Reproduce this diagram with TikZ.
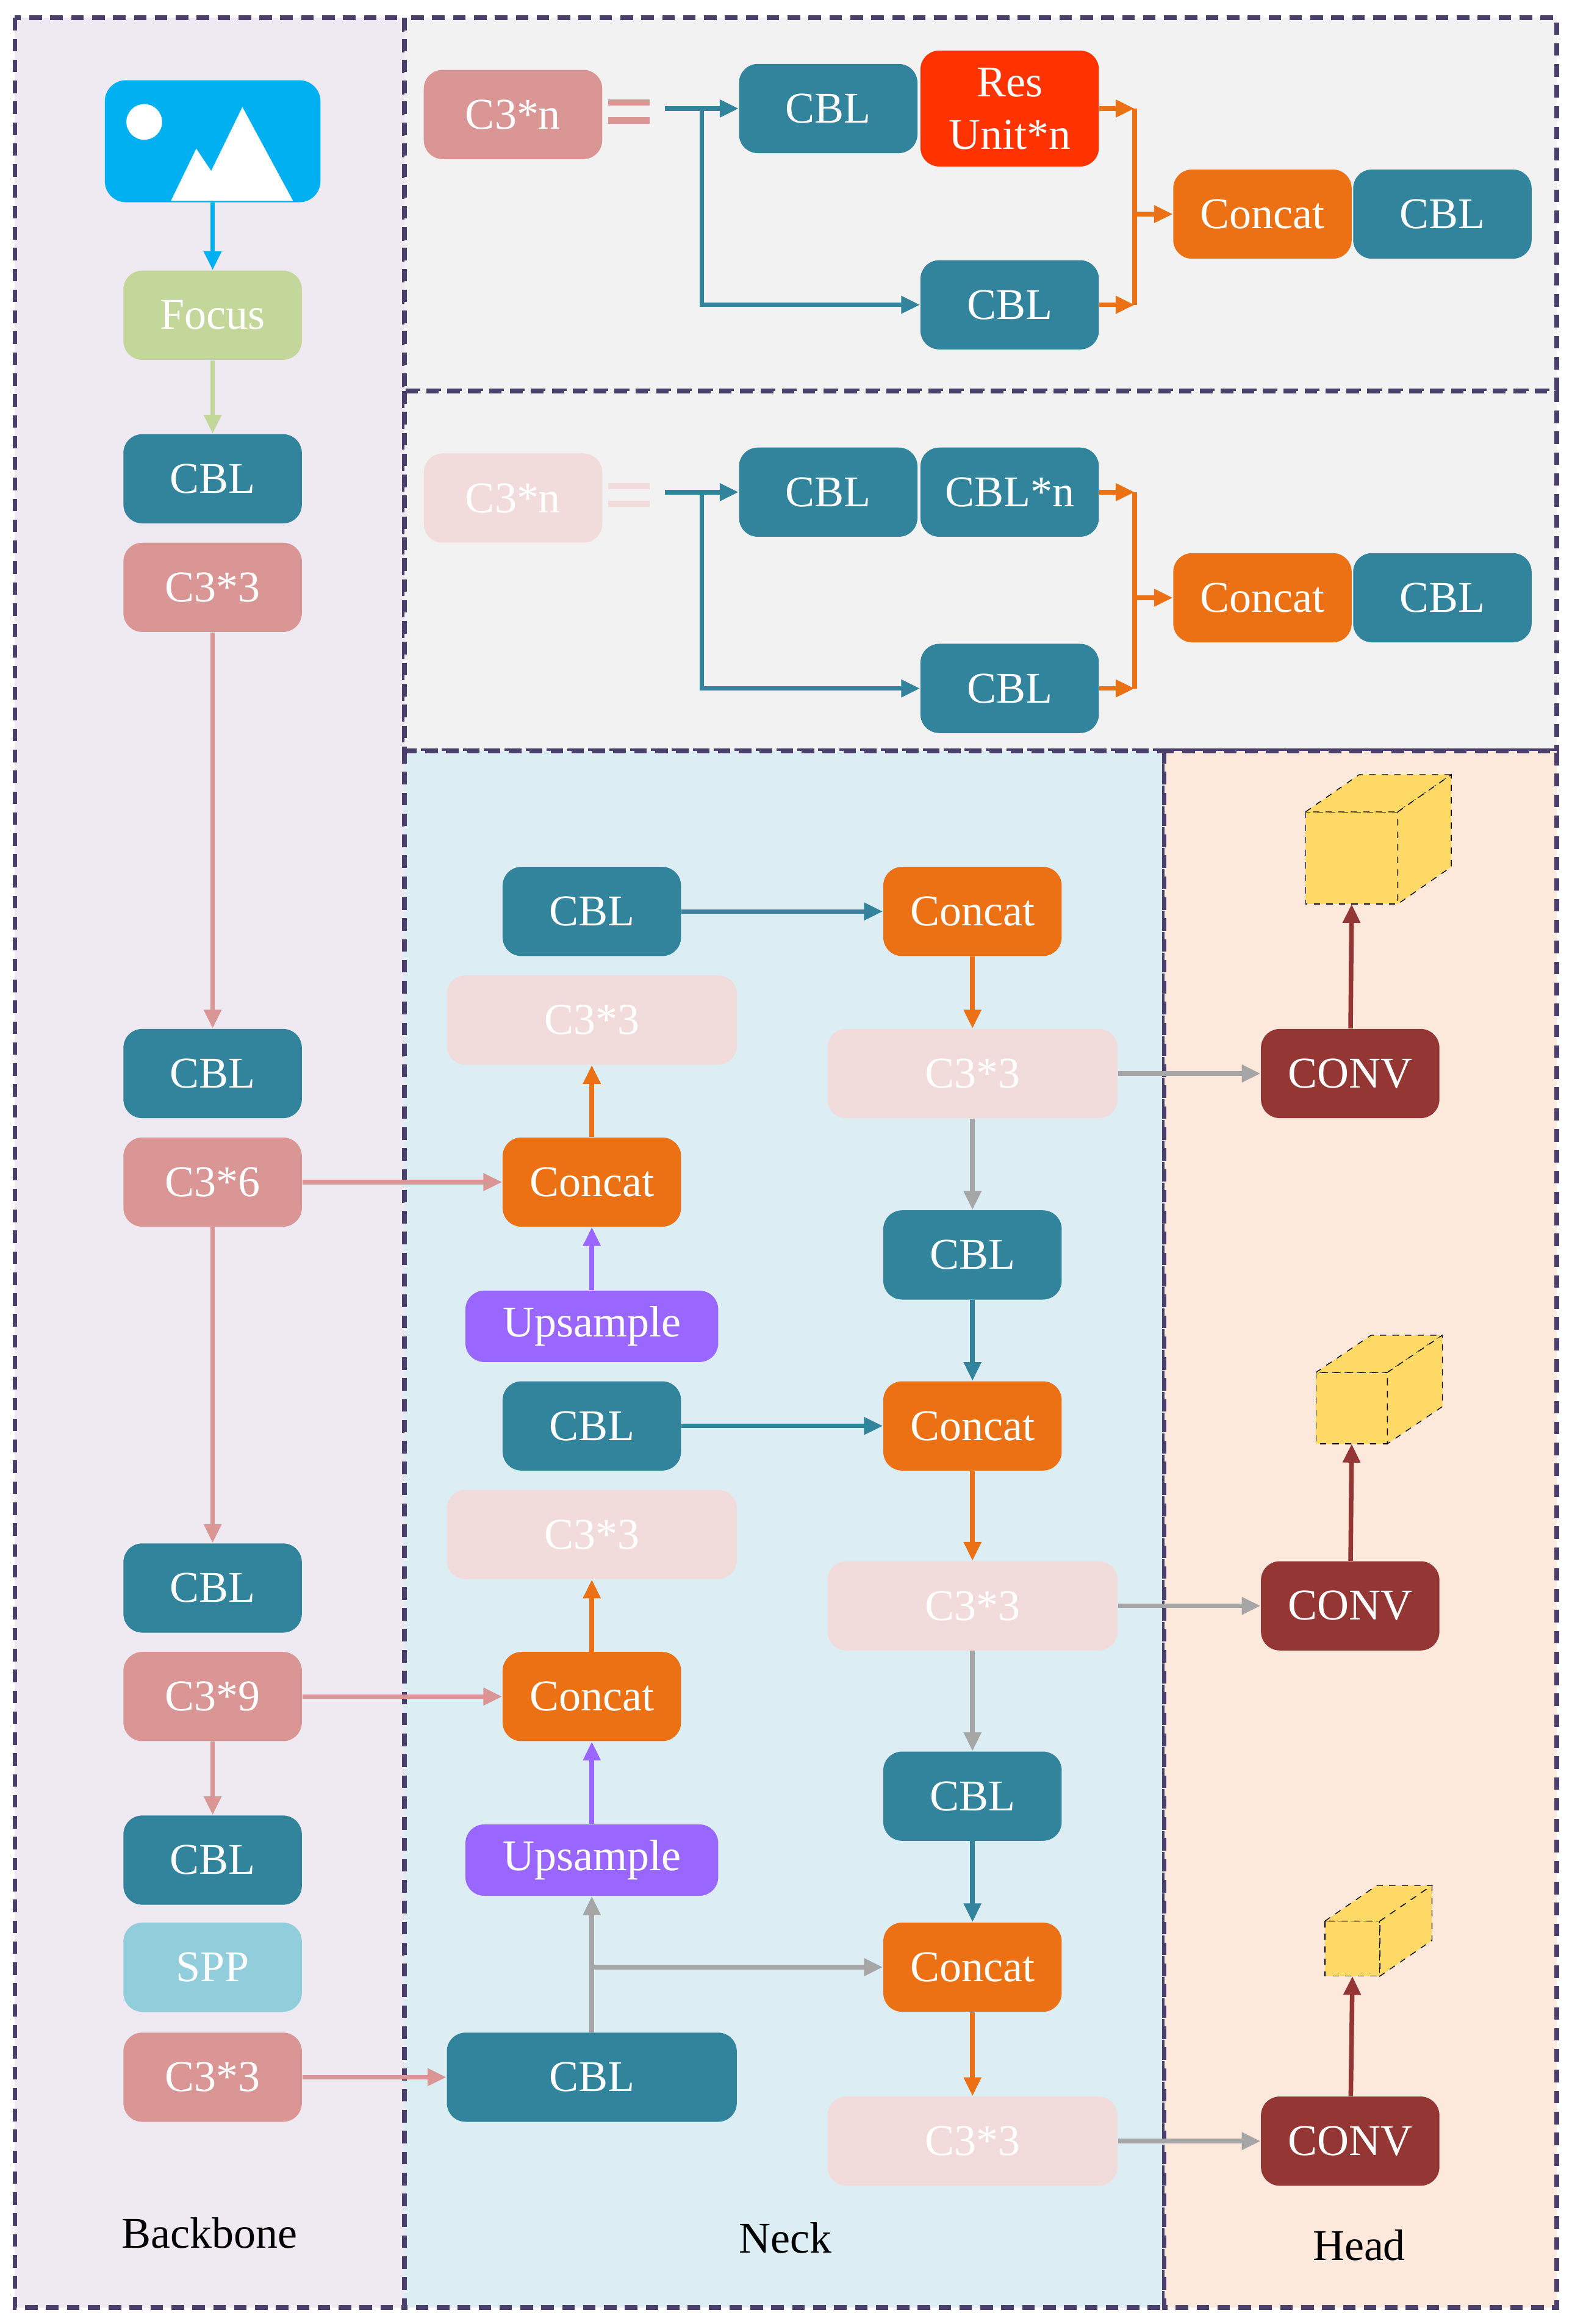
\documentclass[tikz,border=0pt]{standalone}
\usepackage{fontspec}
\setmainfont{Liberation Serif}
\usetikzlibrary{arrows.meta}
\definecolor{teal}{HTML}{31849B}
\definecolor{pk}{HTML}{D99694}
\definecolor{fpk}{HTML}{F2DCDB}
\definecolor{org}{HTML}{EC7014}
\definecolor{pur}{HTML}{9966FF}
\definecolor{dred}{HTML}{943634}
\definecolor{gry}{HTML}{A6A6A6}
\definecolor{frame}{HTML}{4B3F6B}
\definecolor{cy}{HTML}{FFD966}
\begin{document}
\begin{tikzpicture}[x=0.025cm,y=-0.025cm,
 b/.style={rounded corners=9pt,minimum width=120*0.025cm,minimum height=60*0.025cm,text=white,font=\fontsize{21}{23}\selectfont,inner sep=1pt,align=center},
 w/.style={b,minimum width=195*0.025cm},
 cbl/.style={b,fill=teal}, c3/.style={b,fill=pk}, fc3/.style={w,fill=fpk},
 cat/.style={b,fill=org}, up/.style={b,fill=pur,minimum width=170*0.025cm,minimum height=48*0.025cm},
 cv/.style={b,fill=dred},
 ar/.style={line width=2.2pt,-{Triangle[length=9pt,width=8pt]}},
 pnl/.style={line width=2.2pt,draw=frame,dash pattern=on 6pt off 4pt},
 cube/.style={fill=cy,draw=black,dashed,thin}]
\useasboundingbox (0,0) rectangle (1057,1563);
\fill[white] (0,0) rectangle (1057,1563);
% panels
\draw[pnl,fill={rgb,255:red,239;green,233;blue,241}] (10,12) rectangle (272,1552);
\draw[pnl,fill={rgb,255:red,242;green,242;blue,242}] (272,12) rectangle (1047,263);
\draw[pnl,fill={rgb,255:red,242;green,242;blue,242}] (272,263) rectangle (1047,505);
\draw[pnl,fill={rgb,255:red,220;green,237;blue,243}] (272,505) rectangle (783,1552);
\draw[pnl,fill={rgb,255:red,252;green,233;blue,220}] (783,505) rectangle (1047,1552);
% image icon
\node[fill={rgb,255:red,0;green,176;blue,240},rounded corners=10pt,minimum width=145*0.025cm,minimum height=82*0.025cm] (img) at (143,95) {};
\fill[white] (97,82) circle (12);
\fill[white] (115,135)--(132,100)--(142,115)--(163,72)--(197,135)--cycle;
% backbone
\node[b,fill={rgb,255:red,196;green,215;blue,155}] (focus) at (143,212) {Focus};
\node[cbl] (bc1) at (143,322) {CBL};
\node[c3] (b33a) at (143,395) {C3*3};
\node[cbl] (bc2) at (143,722) {CBL};
\node[c3] (b36) at (143,795) {C3*6};
\node[cbl] (bc3) at (143,1068) {CBL};
\node[c3] (b39) at (143,1141) {C3*9};
\node[cbl] (bc4) at (143,1251) {CBL};
\node[b,fill={rgb,255:red,146;green,205;blue,220}] (spp) at (143,1323) {SPP};
\node[c3] (b33b) at (143,1397) {C3*3};
\node[font=\fontsize{21}{23}\selectfont] (lb) at (141,1502) {Backbone};
\coordinate (imgb) at (143,136);
\draw[ar,draw={rgb,255:red,0;green,176;blue,240}] (imgb) -- (focus);
\draw[ar,draw={rgb,255:red,196;green,215;blue,155}] (focus) -- (bc1);
\draw[ar,pk] (b33a) -- (bc2);
\draw[ar,pk] (b36) -- (bc3);
\draw[ar,pk] (b39) -- (bc4);
% top panels
\foreach \dy/\nm/\cl in {0/a/pk,258/b/fpk}{
 \node[b,fill=\cl] (c3n\nm) at (345,77+\dy) {C3*n};
 \draw[line width=3pt,\cl] (409,69+\dy)--(437,69+\dy) (409,81+\dy)--(437,81+\dy);
 \node[cbl] (tc1\nm) at (557,73+\dy) {CBL};
 \node[cbl] (tc2\nm) at (679,205+\dy) {CBL};
 \node[cat] (tcat\nm) at (849,144+\dy) {Concat};
 \node[cbl] (tc3\nm) at (970,144+\dy) {CBL};
 \coordinate (s\nm) at (447,73+\dy);
 \coordinate (br\nm) at (472,73+\dy);
 \coordinate (brd\nm) at (472,205+\dy);
 \coordinate (v1\nm) at (763,73+\dy);
 \coordinate (v2\nm) at (763,205+\dy);
 \coordinate (vm\nm) at (763,144+\dy);
 \draw[ar,teal] (s\nm) -- (tc1\nm);
 \draw[ar,teal] (br\nm) -- (brd\nm) -- (tc2\nm);
 \draw[line width=2.2pt,org] (v1\nm) -- (v2\nm);
 \draw[ar,org] (vm\nm) -- (tcat\nm);
 \draw[ar,org] (tc2\nm.east) -- (v2\nm);
}
\node[b,fill={rgb,255:red,255;green,51;blue,0},minimum height=78*0.025cm,font=\fontsize{21}{25}\selectfont] (res) at (679,73) {Res\\Unit*n};
\node[cbl] (cbln) at (679,331) {CBL*n};
\draw[ar,org] (res.east) -- (v1a);
\draw[ar,org] (cbln.east) -- (v1b);
% neck
\node[cbl] (n1) at (398,613) {CBL};
\node[cat] (k1) at (654,613) {Concat};
\node[fc3] (f1) at (398,686) {C3*3};
\node[fc3] (g1) at (654,722) {C3*3};
\node[cat] (k2) at (398,795) {Concat};
\node[up] (u1) at (398,892) {Upsample};
\node[cbl] (m1) at (654,844) {CBL};
\node[cbl] (n2) at (398,959) {CBL};
\node[cat] (k3) at (654,959) {Concat};
\node[fc3] (f2) at (398,1032) {C3*3};
\node[fc3] (g2) at (654,1080) {C3*3};
\node[cat] (k4) at (398,1141) {Concat};
\node[up] (u2) at (398,1251) {Upsample};
\node[cbl] (m2) at (654,1208) {CBL};
\node[cat] (k5) at (654,1323) {Concat};
\node[cbl,minimum width=195*0.025cm] (n3) at (398,1397) {CBL};
\node[fc3] (g3) at (654,1440) {C3*3};
\node[font=\fontsize{21}{23}\selectfont] (ln) at (528,1505) {Neck};
\draw[ar,pk] (b36) -- (k2);
\draw[ar,pk] (b39) -- (k4);
\draw[ar,pk] (b33b) -- (n3);
\draw[ar,teal] (n1) -- (k1);
\draw[ar,teal] (n2) -- (k3);
\draw[ar,org] (k1) -- (g1);
\draw[ar,org] (k3) -- (g2);
\draw[ar,org] (k5) -- (g3);
\draw[ar,org] (k2) -- (f1);
\draw[ar,org] (k4) -- (f2);
\draw[ar,pur] (u1) -- (k2);
\draw[ar,pur] (u2) -- (k4);
\draw[ar,gry] (g1) -- (m1);
\draw[ar,gry] (g2) -- (m2);
\draw[ar,teal] (m1) -- (k3);
\draw[ar,teal] (m2) -- (k5);
\draw[ar,gry] (n3) -- (u2);
\coordinate (nb) at (398,1323);
\draw[ar,gry] (nb) -- (k5);
% head
\node[cv] (cv1) at (908,722) {CONV};
\node[cv] (cv2) at (908,1080) {CONV};
\node[cv] (cv3) at (908,1440) {CONV};
\node[font=\fontsize{21}{23}\selectfont] (lh) at (914,1510) {Head};
\draw[ar,gry] (g1) -- (cv1);
\draw[ar,gry] (g2) -- (cv2);
\draw[ar,gry] (g3) -- (cv3);
% cubes
\foreach \x/\y/\s/\dx/\dy/\nm in {878/546/62/36/-25/q1,885/923/48/37/-25/q2,891/1292/37/35/-24/q3}{
 \draw[cube] (\x,\y) rectangle (\x+\s,\y+\s);
 \draw[cube] (\x,\y)--(\x+\dx,\y+\dy)--(\x+\s+\dx,\y+\dy)--(\x+\s,\y)--cycle;
 \draw[cube] (\x+\s,\y)--(\x+\s+\dx,\y+\dy)--(\x+\s+\dx,\y+\s+\dy)--(\x+\s,\y+\s)--cycle;
 \coordinate (\nm) at (\x+\s/2,\y+\s);
}
\draw[ar,dred] (cv1) -- (q1);
\draw[ar,dred] (cv2) -- (q2);
\draw[ar,dred] (cv3) -- (q3);
\end{tikzpicture}
\end{document}
